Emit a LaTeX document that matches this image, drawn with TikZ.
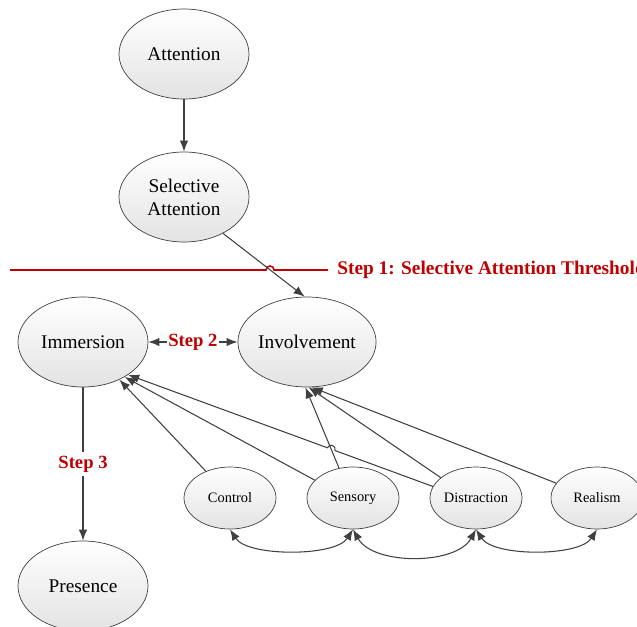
\documentclass[tikz,border=0pt]{standalone}
\usepackage{fontspec}
\setmainfont{Liberation Serif}
\usetikzlibrary{shapes, arrows.meta, positioning, calc}

\definecolor{stepred}{RGB}{192,0,0}
\definecolor{linegray}{RGB}{64,64,64}

\begin{document}
\begin{tikzpicture}[
   >={Latex[length=2.2mm,width=1.7mm]},
   bigell/.style={draw=linegray, ellipse, top color=white, bottom color=black!11,
      minimum width=2.6cm, minimum height=1.8cm, inner sep=0pt, align=center,
      font=\fontsize{11}{13}\selectfont},
   smallell/.style={draw=linegray, ellipse, top color=white, bottom color=black!11,
      minimum width=1.84cm, minimum height=1.24cm, inner sep=0pt,
      font=\fontsize{8.2}{10}\selectfont},
   conn/.style={draw=linegray, line width=0.6pt},
   steplabel/.style={text=stepred, font=\fontsize{10.6}{12}\selectfont\bfseries}
]
   \useasboundingbox (0,0) rectangle (12.74,12.52);

   \node[bigell] (Attention) at (3.68, 11.44) {Attention};
   \node[bigell] (SelAtt) at (3.68, 8.58) {Selective\\Attention};
   \node[bigell] (Immersion) at (1.66, 5.68) {Immersion};
   \node[bigell] (Involvement) at (6.14, 5.68) {Involvement};
   \node[bigell] (Presence) at (1.66, 0.80) {Presence};

   \node[smallell] (Control) at (4.60, 2.56) {Control};
   \node[smallell] (Sensory) at (7.06, 2.56) {Sensory};
   \node[smallell] (Distraction) at (9.52, 2.56) {Distraction};
   \node[smallell] (Realism) at (11.94, 2.56) {Realism};

   % threshold line with a hop over the arrow
   \coordinate (thrL) at (0.2, 7.12);
   \coordinate (hopA) at (5.40, 7.12);
   \coordinate (thrR) at (6.56, 7.12);
   \coordinate (hopB) at (6.624, 3.537);
   \draw[stepred, line width=0.9pt] (thrL) -- ($(hopA)+(-0.08,0)$)
      arc[start angle=180, end angle=0, radius=0.08] -- (thrR);
   \node[steplabel, anchor=west, inner sep=0pt, font=\fontsize{11}{13}\selectfont\bfseries]
      (thrText) at (6.74, 7.12) {Step 1: Selective Attention Threshold};

   \draw[conn, ->] (Attention) -- (SelAtt);
   \draw[conn, ->] (SelAtt.-43) -- (Involvement.93);
   \draw[conn, <->] (Immersion) -- node[steplabel, fill=white, inner sep=1pt] {Step 2} (Involvement);
   \draw[conn, ->] (Immersion) -- node[steplabel, fill=white, inner sep=2pt] {Step 3} (Presence);

   \draw[conn, ->] (Control.132) -- (Immersion.-46);
   \draw[conn, ->] (Sensory.155) -- (Immersion.-40);
   \draw[conn, ->] (Distraction.165) -- ($(hopB)+(-20:0.08)$)
      arc[start angle=-20, end angle=160, radius=0.08] -- (Immersion.-36);
   \draw[conn, ->] (Sensory.115) -- (Involvement.-92);
   \draw[conn, ->] (Distraction.150) -- (Involvement.-88);
   \draw[conn, ->] (Realism.160) -- (Involvement.-84);

   \draw[conn, <->] (Control.south) .. controls +(0.35,-0.55) and +(-0.35,-0.55) .. (Sensory.south);
   \draw[conn, <->] (Sensory.south) .. controls +(0.4,-0.72) and +(-0.4,-0.72) .. (Distraction.south);
   \draw[conn, <->] (Distraction.south) .. controls +(0.35,-0.55) and +(-0.35,-0.55) .. (Realism.south);
\end{tikzpicture}
\end{document}
